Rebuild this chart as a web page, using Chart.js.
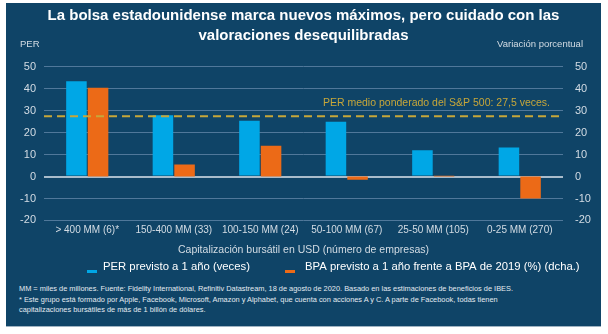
<!DOCTYPE html>
<html>
<head>
<meta charset="utf-8">
<script src="https://cdn.jsdelivr.net/npm/chart.js@4"></script>
<style>
  body { margin: 0; background: #fff; font-family: "Liberation Sans", Arial, sans-serif; }
  #panel { position: absolute; left: 6px; top: 3px; width: 595px; height: 323px; background: #0f4467; border-bottom: 1px solid #9fb3c2; }
  #chart { position: absolute; left: 0; top: 0; }
  #notes { position: absolute; left: 13px; top: 281px; width: 575px; color: #e4ebf1; font-size: 7.4px; line-height: 10.7px; }
</style>
</head>
<body>
<div id="panel">
  <canvas id="chart" width="595" height="281"></canvas>
  <div id="notes">
    MM = miles de millones. Fuente: Fidelity International, Refinitiv Datastream, 18 de agosto de 2020. Basado en las estimaciones de beneficios de IBES.<br>
    * Este grupo está formado por Apple, Facebook, Microsoft, Amazon y Alphabet, que cuenta con acciones A y C. A parte de Facebook, todas tienen<br>
    capitalizaciones bursátiles de más de 1 billón de dólares.
  </div>
</div>
<script>
// datos
const categories = ['> 400 MM (6)*', '150-400 MM (33)', '100-150 MM (24)', '50-100 MM (67)', '25-50 MM (105)', '0-25 MM (270)'];
const perValues = [43.5, 28, 25.5, 25, 12, 13.2];
const bpaValues = [40.5, 5.5, 14, -1.5, 0.4, -10];
const perAvg = 27.5;
const yTicks = [-20, -10, 0, 10, 20, 30, 40, 50];

const BLUE = '#00a7e6';
const ORANGE = '#ec6a17';
const GOLD = '#c7a73a';
const TICK = '#d3dce4';

function fixWidth(w) {
    return function(scale) { scale.width = w; };
}

// linea discontinua del PER medio + etiquetas sueltas
const extras = {
    id: 'extras',
    afterDatasetsDraw(chart) {
        const ctx = chart.ctx;
        const area = chart.chartArea;
        const y = chart.scales.y.getPixelForValue(perAvg);
        ctx.save();
        ctx.strokeStyle = GOLD;
        ctx.lineWidth = 2;
        ctx.setLineDash([8, 5]);
        ctx.beginPath();
        ctx.moveTo(area.left, y);
        ctx.lineTo(area.right, y);
        ctx.stroke();
        ctx.setLineDash([]);
        ctx.fillStyle = GOLD;
        ctx.font = '10.5px "Liberation Sans", Arial';
        ctx.textAlign = 'right';
        ctx.textBaseline = 'middle';
        ctx.fillText('PER medio ponderado del S&P 500: 27,5 veces.', area.right - 13, y - 13);
        ctx.restore();
    },
    afterDraw(chart) {
        const ctx = chart.ctx;
        ctx.save();
        ctx.fillStyle = TICK;
        ctx.font = '9.5px "Liberation Sans", Arial';
        ctx.textBaseline = 'middle';
        ctx.textAlign = 'left';
        ctx.fillText('PER', 14, 41);
        ctx.textAlign = 'right';
        ctx.fillText('Variación porcentual', 577, 41);

        // leyenda
        ctx.font = '11.3px "Liberation Sans", Arial';
        ctx.textAlign = 'left';
        ctx.fillStyle = BLUE;
        ctx.fillRect(81, 267, 10, 3);
        ctx.fillStyle = ORANGE;
        ctx.fillRect(279, 267, 10, 3);
        ctx.fillStyle = '#ffffff';
        ctx.fillText('PER previsto a 1 año (veces)', 97, 264);
        ctx.fillText('BPA previsto a 1 año frente a BPA de 2019 (%) (dcha.)', 299, 264);
        ctx.restore();
    }
};

new Chart(document.getElementById('chart').getContext('2d'), {
    type: 'bar',
    data: {
        labels: categories,
        datasets: [
            { label: 'PER previsto a 1 año (veces)', data: perValues, backgroundColor: BLUE, yAxisID: 'y' },
            { label: 'BPA previsto a 1 año frente a BPA de 2019 (%) (dcha.)', data: bpaValues, backgroundColor: ORANGE, yAxisID: 'y1' }
        ]
    },
    options: {
        responsive: false,
        animation: false,
        categoryPercentage: 0.5,
        barPercentage: 0.95,
        layout: { padding: { top: 0, bottom: 28, left: 0, right: 0 } },
        plugins: {
            legend: { display: false },
            tooltip: { enabled: false },
            title: {
                display: true,
                text: ['La bolsa estadounidense marca nuevos máximos, pero cuidado con las', 'valoraciones desequilibradas'],
                color: '#ffffff',
                font: { family: '"Liberation Sans", Arial', size: 15, weight: 'bold', lineHeight: 1.33 },
                padding: { top: 3, bottom: 21 }
            }
        },
        scales: {
            x: {
                grid: { display: false, drawTicks: false },
                border: { display: false },
                ticks: { color: TICK, font: { family: '"Liberation Sans", Arial', size: 10 }, padding: 4, maxRotation: 0, autoSkip: false },
                title: {
                    display: true,
                    text: 'Capitalización bursátil en USD (número de empresas)',
                    color: TICK,
                    font: { family: '"Liberation Sans", Arial', size: 10.5 },
                    padding: { top: 3, bottom: 0 }
                }
            },
            y: {
                position: 'left',
                min: -20, max: 50,
                afterFit: fixWidth(38),
                afterBuildTicks: (s) => { s.ticks = yTicks.map(v => ({ value: v })); },
                border: { display: false },
                grid: {
                    drawTicks: false,
                    color: (c) => c.tick.value === 0 ? '#a9bccb' : '#50789a',
                    lineWidth: (c) => c.tick.value === 0 ? 2 : 1
                },
                ticks: { color: TICK, font: { family: '"Liberation Sans", Arial', size: 11 }, padding: 8 }
            },
            y1: {
                position: 'right',
                min: -20, max: 50,
                afterFit: fixWidth(38),
                afterBuildTicks: (s) => { s.ticks = yTicks.map(v => ({ value: v })); },
                border: { display: false },
                grid: { display: false, drawTicks: false },
                ticks: { color: TICK, font: { family: '"Liberation Sans", Arial', size: 11 }, padding: 12 }
            }
        }
    },
    plugins: [extras]
});
</script>
</body>
</html>
